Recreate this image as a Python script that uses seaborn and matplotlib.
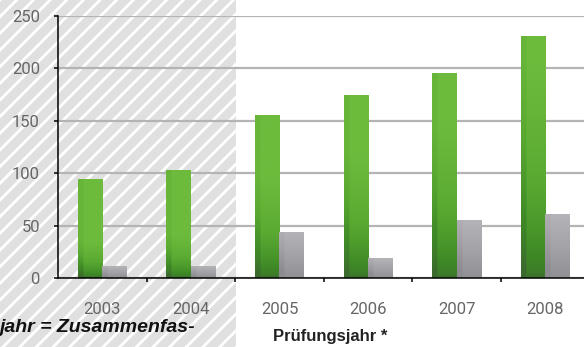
import numpy as np
import pandas as pd
import matplotlib
matplotlib.use("Agg")
import matplotlib.pyplot as plt
from matplotlib.patches import Rectangle
from matplotlib.colors import LinearSegmentedColormap
import seaborn as sns

# Data
years = ["2003", "2004", "2005", "2006", "2007", "2008"]
series_a = [94, 103, 156, 175, 196, 231]
series_b = [11, 11, 44, 19, 55, 61]
series_names = ["A", "B"]
y_ticks = [0, 50, 100, 150, 200, 250]
x_label = "Prüfungsjahr *"
note_text = "jahr = Zusammenfas-"

df = pd.DataFrame({
    "Jahr": years * 2,
    "Wert": series_a + series_b,
    "Serie": [series_names[0]] * len(years) + [series_names[1]] * len(years),
})

sns.set_theme(style="white")
plt.rcParams["font.family"] = ["Roboto", "DejaVu Sans"]
plt.rcParams["hatch.linewidth"] = 2.0

W, H = 584, 347
fig = plt.figure(figsize=(W / 100, H / 100), dpi=100)
fig.patch.set_facecolor("white")

# hatched grey panel on the left side of the figure
panel = Rectangle((0, 0), 236 / W, 1, transform=fig.transFigure,
                  facecolor="#e0e0e0", edgecolor="white", linewidth=0,
                  hatch="//", zorder=-5)
fig.patches.append(panel)

left, bottom_px, top_px = 58, 278, 16
cat_w = 88.6
ax = fig.add_axes([left / W, (H - bottom_px) / H,
                   6 * cat_w / W, (bottom_px - top_px) / H])
ax.set_facecolor("none")
ax.set_zorder(2)

palette = {series_names[0]: "#55a830", series_names[1]: "#a8a8ac"}
sns.barplot(data=df, x="Jahr", y="Wert", hue="Serie", order=years,
            hue_order=series_names, palette=palette, width=0.553,
            dodge=True, legend=False, ax=ax, zorder=3, linewidth=0,
            saturation=1)

# shaded fills clipped to each bar
green_cm = LinearSegmentedColormap.from_list(
    "g", ["#3b6a2e", "#3f8a26", "#5aaa32", "#6dbb3c"])
grey_cm = LinearSegmentedColormap.from_list(
    "k", ["#8c8c90", "#a2a2a6", "#b4b4b8"])
for i, bar in enumerate(ax.patches):
    x0, y0 = bar.get_x(), bar.get_y()
    w, h = bar.get_width(), bar.get_height()
    if h <= 0:
        continue
    cm = green_cm if i < len(years) else grey_cm
    vy = np.linspace(0, 1, 64)[:, None]
    vy = np.clip(vy * 260 / max(h, 1), 0, 1) ** 0.6 if i < len(years) else vy
    vx = np.linspace(-1, 1, 32)[None, :]
    shade = np.clip(vy * 0.9 + 0.1 - 0.25 * (vx < -0.6) * (1 - vy * 0.5), 0, 1)
    im = ax.imshow(shade, extent=[x0, x0 + w, y0, y0 + h], origin="lower",
                   aspect="auto", cmap=cm, vmin=0, vmax=1, zorder=3.5,
                   interpolation="bilinear")
    im.set_clip_path(bar)

ax.set_xlim(-0.5, 5.5)
ax.set_ylim(0, 250)
ax.set_yticks(y_ticks)
ax.set_yticklabels([str(v) for v in y_ticks])
ax.yaxis.grid(True, color="#b4b4b4", linewidth=1.6, zorder=1)
ax.set_axisbelow(True)

for s in ["top", "right"]:
    ax.spines[s].set_visible(False)
for s in ["left", "bottom"]:
    ax.spines[s].set_color("black")
    ax.spines[s].set_linewidth(1.1)
    ax.spines[s].set_zorder(5)

ax.tick_params(axis="y", which="major", left=True, length=3, width=1.1,
               color="black", pad=10, labelsize=12, labelcolor="#666666")
ax.tick_params(axis="x", which="major", bottom=False, length=0, pad=17,
               labelsize=12, labelcolor="#666666")
ax.set_xticks(np.arange(0.5, 5.5, 1), minor=True)
ax.tick_params(axis="x", which="minor", bottom=True, length=3, width=1.1,
               color="black")
ax.set_xlabel("")
ax.set_ylabel("")

fig.text(273 / W, 1 - 336 / H, x_label, ha="left", va="center",
         fontsize=12, fontweight="bold", color="#222222",
         family=["Liberation Sans", "DejaVu Sans"])
fig.text(-1 / W, 1 - 327 / H, note_text, ha="left", va="center",
         fontsize=14, fontweight="bold", fontstyle="italic",
         color="#111111", family=["Liberation Sans", "DejaVu Sans"])

fig.savefig("out.png", dpi=100)
